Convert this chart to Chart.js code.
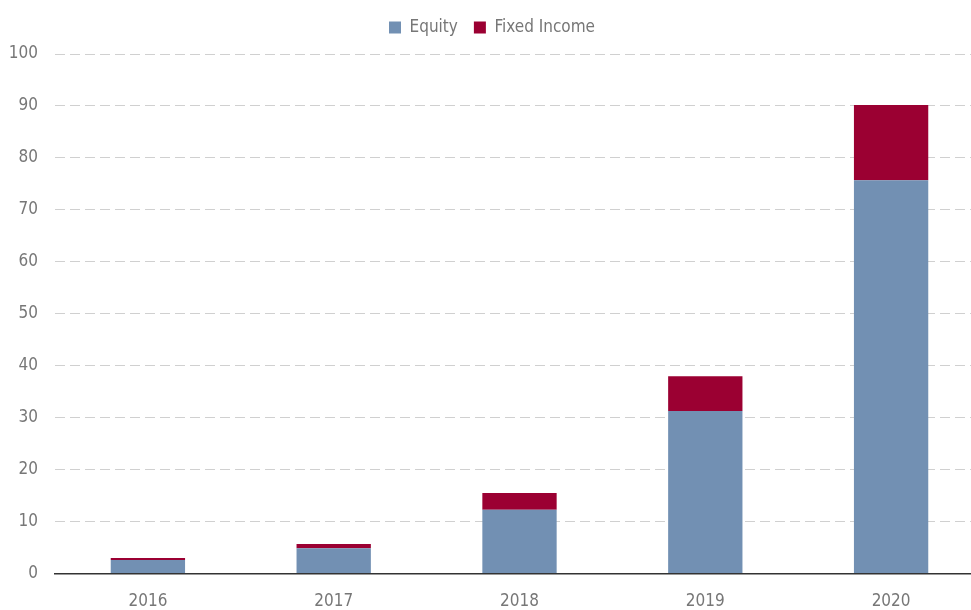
<!DOCTYPE html>
<html>
<head>
<meta charset="utf-8">
<script src="https://cdn.jsdelivr.net/npm/chart.js@4"></script>
<style>
  html, body { margin: 0; padding: 0; background: #fff; overflow: hidden; }
  #wrap { width: 984px; height: 622px; }
</style>
</head>
<body>
<div id="wrap"><canvas id="chart"></canvas></div>
<script>
const years = ['2016', '2017', '2018', '2019', '2020'];
const equity = [2.6, 4.9, 12.3, 31.3, 75.7];
const fixedIncome = [0.4, 0.8, 3.2, 6.7, 14.5];

const font = { family: "'DejaVu Sans'", size: 17, weight: 'condensed' };

// extra space under the legend
const legendMargin = {
    id: 'legendMargin',
    beforeInit(chart) {
        const fit = chart.legend.fit;
        chart.legend.fit = function () {
            fit.bind(chart.legend)();
            this.height += 8;
        };
    }
};

new Chart(document.getElementById('chart').getContext('2d'), {
    type: 'bar',
    data: {
        labels: years,
        datasets: [
            {
                label: 'Equity',
                data: equity,
                backgroundColor: '#7290b3',
                categoryPercentage: 1,
                barPercentage: 0.4
            },
            {
                label: 'Fixed Income',
                data: fixedIncome,
                backgroundColor: '#9b0032',
                categoryPercentage: 1,
                barPercentage: 0.4
            }
        ]
    },
    options: {
        responsive: true,
        maintainAspectRatio: false,
        animation: false,
        layout: { padding: { top: 3, left: 0, right: 0, bottom: 0 } },
        scales: {
            x: {
                stacked: true,
                grid: { display: false },
                border: { display: true, color: '#333', width: 1.5 },
                ticks: { color: '#777', font: font, padding: 10 }
            },
            y: {
                stacked: true,
                min: 0,
                max: 100,
                afterFit(scale) { scale.width = 55; },
                ticks: { stepSize: 10, color: '#777', font: font, padding: 17 },
                grid: { color: '#d0d0d0', lineWidth: 1, drawTicks: false },
                border: { display: false, dash: [10, 5] }
            }
        },
        plugins: {
            legend: {
                position: 'top',
                labels: {
                    boxWidth: 12,
                    boxHeight: 12,
                    color: '#777',
                    padding: 16,
                    font: font
                }
            },
            tooltip: { enabled: false }
        }
    },
    plugins: [legendMargin]
});
</script>
</body>
</html>
